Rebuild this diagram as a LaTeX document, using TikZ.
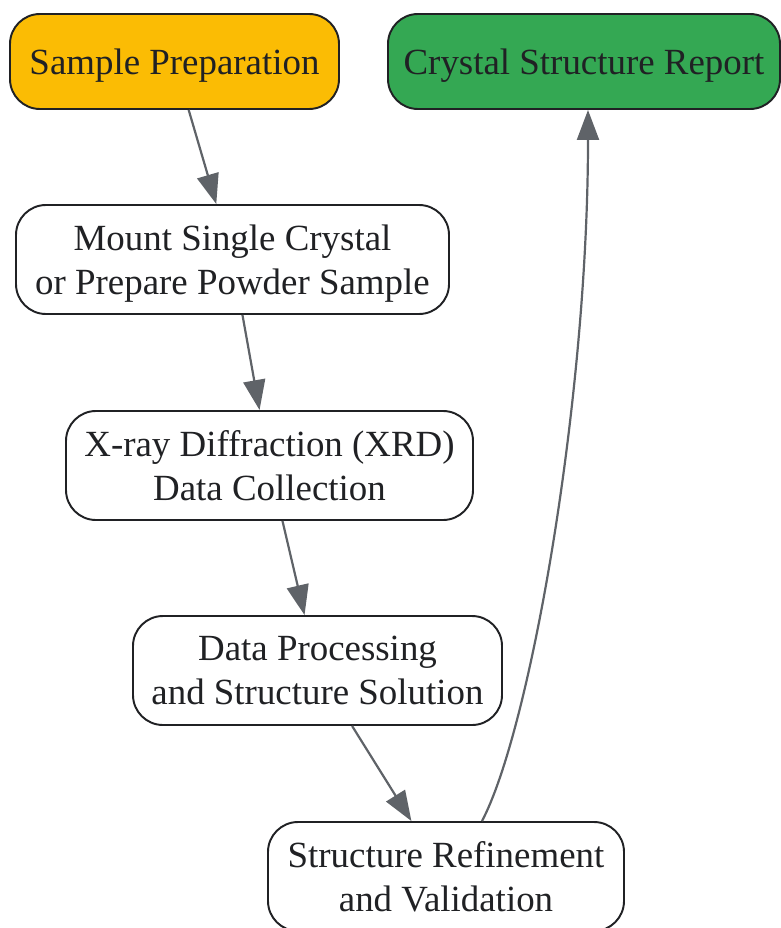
\documentclass[tikz,border=0pt]{standalone}
\usepackage{fontspec}
\setmainfont{Liberation Serif}
\usepackage{tikz}
\usetikzlibrary{positioning}
\usetikzlibrary{shapes,arrows.meta}
\definecolor{inkdark}{HTML}{202124}
\definecolor{edgegray}{HTML}{5F6368}
\definecolor{startyellow}{HTML}{FBBC04}
\definecolor{endgreen}{HTML}{34A853}
\tikzstyle{block} = [rectangle, draw=inkdark, line width=1.1pt, fill=white, text=inkdark,
align=center, rounded corners=0.6cm, minimum height=2.18cm, inner sep=0pt, text depth=0pt,
font=\fontsize{21}{25.3}\selectfont]
\tikzstyle{line} = [draw=edgegray, line width=1.25pt, -{Triangle[length=0.6cm,width=0.44cm]}]

\begin{document}
\begin{tikzpicture}
    \useasboundingbox (0,0) rectangle (15.62,-18.56);
    % nodes
   \node [block, fill=startyellow, minimum width=6.58cm, minimum height=1.9cm] (sp) at (3.49,-1.23) {Sample Preparation};
   \node [block, fill=endgreen, minimum width=7.84cm, minimum height=1.9cm] (csr) at (11.68,-1.23) {Crystal Structure Report};
   \node [block, minimum width=8.66cm] (mount) at (4.65,-5.19) {Mount Single Crystal\\or Prepare Powder Sample};
   \node [block, minimum width=8.14cm] (xrd) at (5.39,-9.31) {X-ray Diffraction (XRD)\\Data Collection};
   \node [block, minimum width=7.38cm] (dp) at (6.35,-13.41) {Data Processing\\and Structure Solution};
   \node [block, minimum width=7.12cm] (sr) at (8.92,-17.53) {Structure Refinement\\and Validation};

    % edges
          \path [line] (sp) -- (mount);
          \path [line] (mount) -- (xrd);
          \path [line] (xrd) -- (dp);
          \path [line] (dp) -- (sr);
          \path [line] ([xshift=0.72cm]sr.north) .. controls (10.6,-14.6) and (11.76,-8.0) .. ([xshift=0.08cm]csr.south);

  \end{tikzpicture}
\end{document}
